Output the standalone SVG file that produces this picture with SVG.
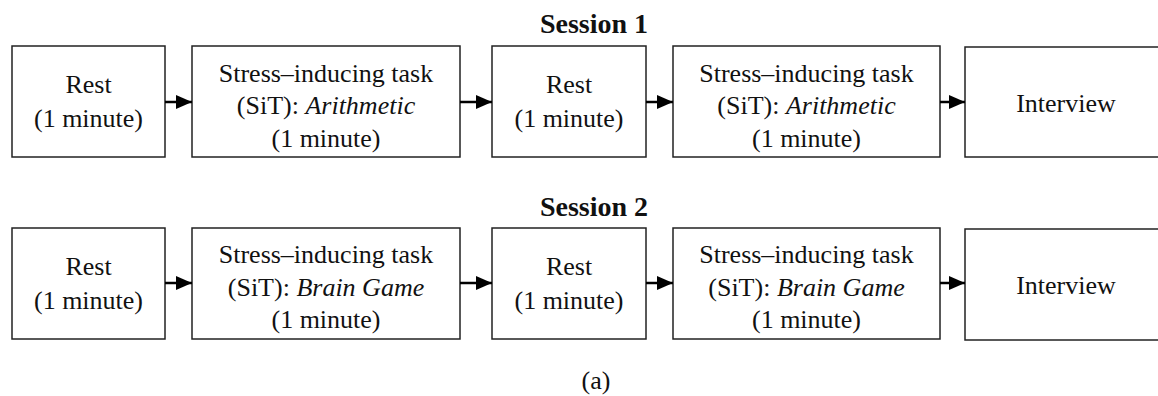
<svg xmlns="http://www.w3.org/2000/svg" width="1158" height="396" viewBox="0 0 1158 396">
<style>
.box{fill:#fff;stroke:#222;stroke-width:1.5}
text{font-family:"Liberation Serif","Times New Roman",serif;font-size:26px;fill:#111;text-anchor:middle}
.title{font-weight:bold;font-size:28px}
.it{font-style:italic}
.conn{stroke:#000;stroke-width:2.5;fill:none}
</style>
<defs>
<marker id="ah" markerUnits="userSpaceOnUse" markerWidth="16" markerHeight="14" refX="16" refY="7" orient="auto">
<polygon points="0,0 16,7 0,14" fill="#000"/>
</marker>
</defs>
<text class="title" x="594" y="33">Session 1</text>
<text class="title" x="594" y="216">Session 2</text>
<text x="596" y="389">(a)</text>

<g id="s1-rest1"><rect class="box" x="12" y="46" width="153" height="111"/><text x="88.5" y="93">Rest</text><text x="88.5" y="127">(1 minute)</text></g>
<g id="s1-sit1"><rect class="box" x="192" y="46" width="268" height="111"/><text x="326" y="82">Stress–inducing task</text><text x="326" y="114">(SiT): <tspan class="it">Arithmetic</tspan></text><text x="326" y="147">(1 minute)</text></g>
<g id="s1-rest2"><rect class="box" x="492" y="46" width="154" height="111"/><text x="569" y="93">Rest</text><text x="569" y="127">(1 minute)</text></g>
<g id="s1-sit2"><rect class="box" x="673" y="46" width="267" height="111"/><text x="806.5" y="82">Stress–inducing task</text><text x="806.5" y="114">(SiT): <tspan class="it">Arithmetic</tspan></text><text x="806.5" y="147">(1 minute)</text></g>
<g id="s1-interview"><rect class="box" x="965" y="47" width="205" height="110"/><text x="1066" y="112">Interview</text></g>

<g id="s2-rest1"><rect class="box" x="12" y="228" width="153" height="111"/><text x="88.5" y="275">Rest</text><text x="88.5" y="309">(1 minute)</text></g>
<g id="s2-sit1"><rect class="box" x="192" y="228" width="268" height="111"/><text x="326" y="263">Stress–inducing task</text><text x="326" y="296">(SiT): <tspan class="it">Brain Game</tspan></text><text x="326" y="328">(1 minute)</text></g>
<g id="s2-rest2"><rect class="box" x="492" y="228" width="154" height="111"/><text x="569" y="275">Rest</text><text x="569" y="309">(1 minute)</text></g>
<g id="s2-sit2"><rect class="box" x="673" y="228" width="267" height="111"/><text x="806.5" y="263">Stress–inducing task</text><text x="806.5" y="296">(SiT): <tspan class="it">Brain Game</tspan></text><text x="806.5" y="328">(1 minute)</text></g>
<g id="s2-interview"><rect class="box" x="965" y="229" width="205" height="111"/><text x="1066" y="294">Interview</text></g>

<g id="connectors">
<line class="conn" x1="165" y1="102" x2="192" y2="102" marker-end="url(#ah)"/>
<line class="conn" x1="460" y1="102" x2="492" y2="102" marker-end="url(#ah)"/>
<line class="conn" x1="646" y1="102" x2="673" y2="102" marker-end="url(#ah)"/>
<line class="conn" x1="940" y1="102" x2="965" y2="102" marker-end="url(#ah)"/>
<line class="conn" x1="165" y1="283" x2="192" y2="283" marker-end="url(#ah)"/>
<line class="conn" x1="460" y1="283" x2="492" y2="283" marker-end="url(#ah)"/>
<line class="conn" x1="646" y1="283" x2="673" y2="283" marker-end="url(#ah)"/>
<line class="conn" x1="940" y1="283" x2="965" y2="283" marker-end="url(#ah)"/>
</g>
</svg>
